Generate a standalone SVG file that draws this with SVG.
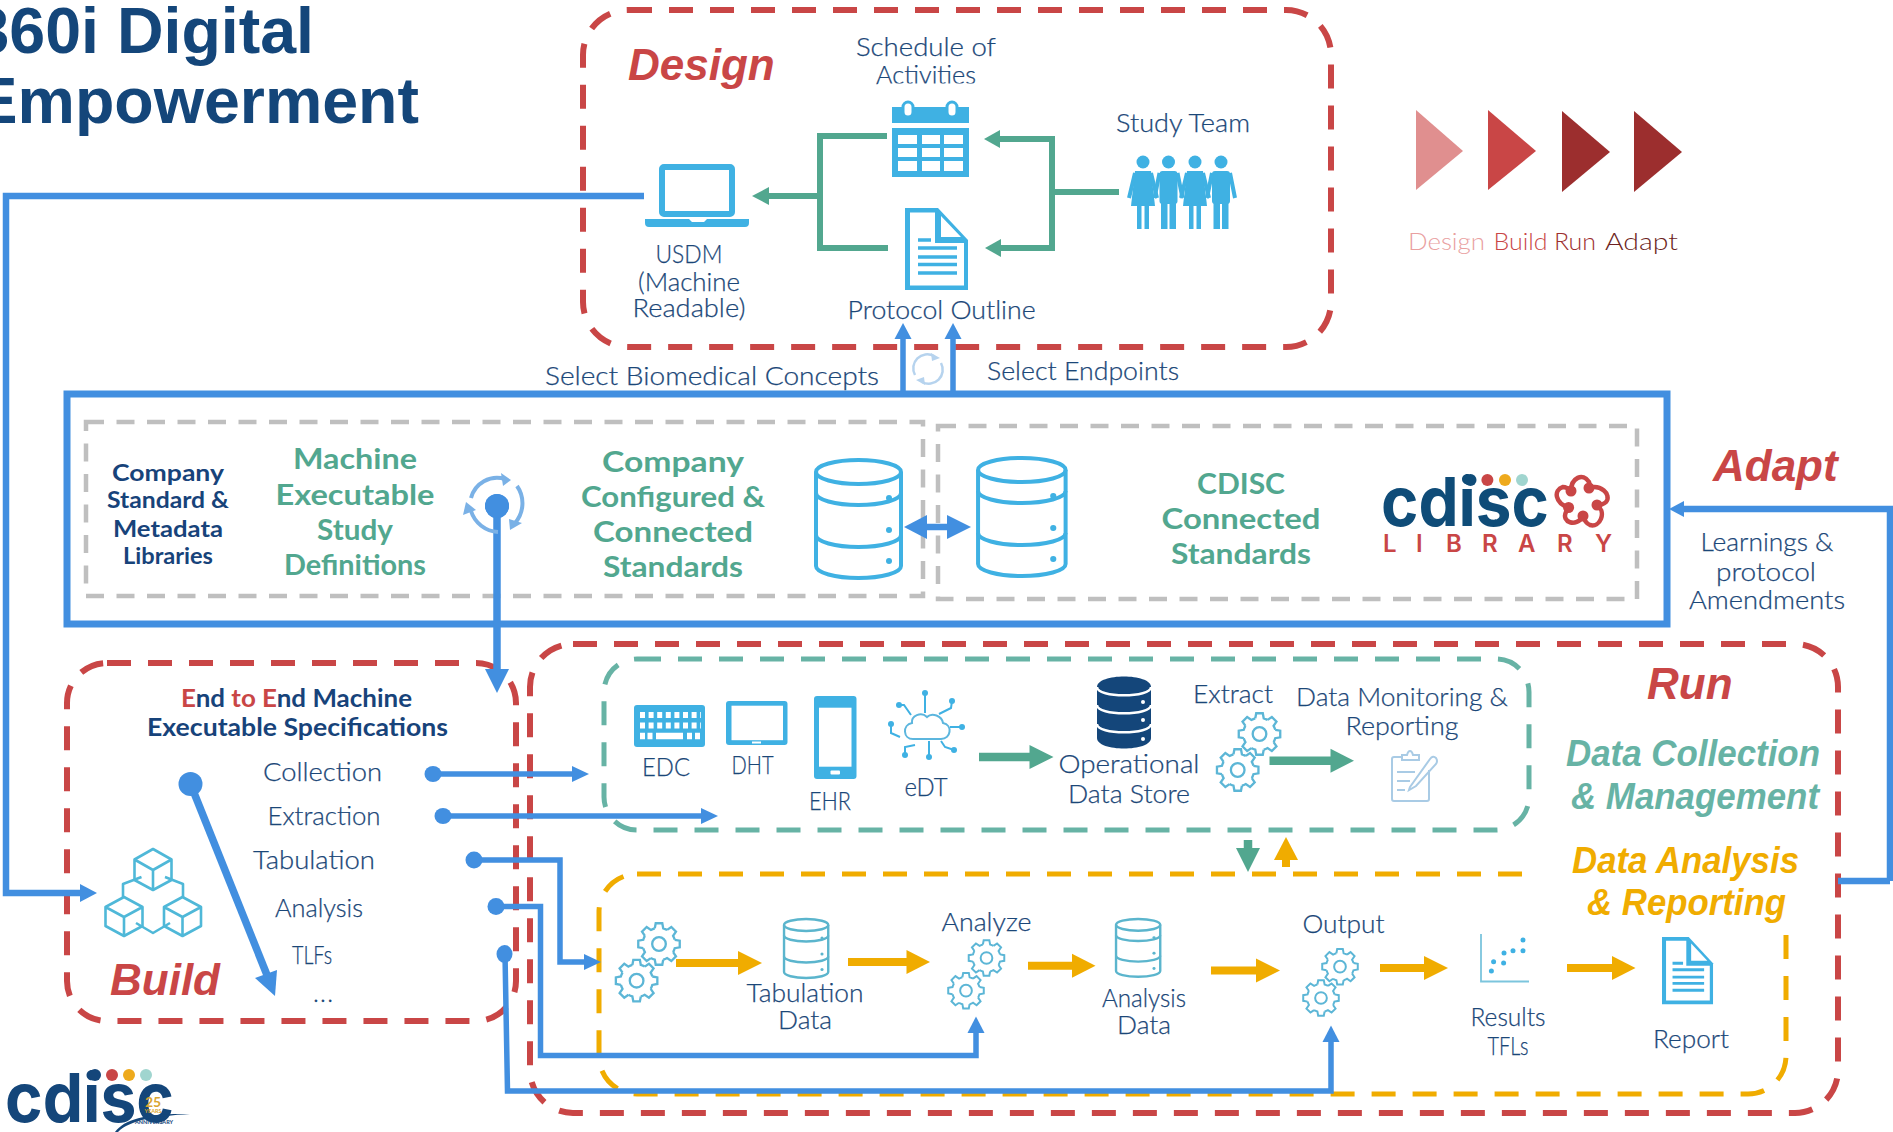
<svg xmlns="http://www.w3.org/2000/svg" xmlns:xlink="http://www.w3.org/1999/xlink" width="1893" height="1132" viewBox="0 0 1893 1132">
<style>
text{font-family:"Lato","Noto Sans",sans-serif}
.t{fill:#1b4778;font-size:25px;font-weight:300;text-anchor:middle;stroke:#1b4778;stroke-width:.25}
.gb{fill:#52a78f;font-size:29px;font-weight:700;text-anchor:middle}
.nb{fill:#17437a;font-size:23px;font-weight:700;text-anchor:middle}
.hb{fill:#17437a;font-size:24px;font-weight:700;text-anchor:middle}
.ph{font-family:"Liberation Sans",Arial,sans-serif;font-weight:700;font-style:italic;fill:#c94646;font-size:44px}
.ph2{font-family:"Liberation Sans",Arial,sans-serif;font-weight:700;font-style:italic;font-size:37px}
.title{font-family:"Liberation Sans",Arial,sans-serif;font-weight:700;font-size:64.5px;fill:#14467a;text-anchor:end}
.box{fill:none;stroke-dasharray:24 17}
.red{stroke:#c94646;stroke-width:6}
.grn{stroke:#67b3a5;stroke-width:5}
.org{stroke:#f0ac00;stroke-width:5}
.gray{fill:none;stroke:#bfbfbf;stroke-width:4.5;stroke-dasharray:18 12.5}
.bl{fill:none;stroke:#428fe0;stroke-width:5.5}
.blf{fill:#428fe0}
.tl{fill:none;stroke:#52a78f;stroke-width:6}
.tlf{fill:#52a78f}
.ol{fill:none;stroke:#f0ac00;stroke-width:8}
.olf{fill:#f0ac00}
.w6{stroke-width:6.5}
.w7{stroke-width:7.5}
.w8{stroke-width:8.5}
.ic{fill:#3fb1e3}
.ns{vector-effect:non-scaling-stroke}
.dbu{fill:none;stroke:#3fb1e3;color:#3fb1e3;stroke-width:4}
.dbt{fill:none;stroke:#5bb5cd;color:#5bb5cd;stroke-width:2.4}
.gear{fill:none;stroke:#5cb6d6;stroke-width:2.2}
.cube{fill:none;stroke:#4fb8d8;stroke-width:2.6;stroke-linejoin:round}
.logo{font-family:"Inter","Lato",sans-serif;font-weight:700;fill:#0f4c78}
</style>
<defs>
<path id="gt" d="M14.97,-4.01 L19.75,-3.13 L19.75,3.13 L14.97,4.01 A15.5,15.5 0 0 1 13.42,7.75"/>
<g id="gear">
<use xlink:href="#gt"/><use xlink:href="#gt" transform="rotate(45)"/><use xlink:href="#gt" transform="rotate(90)"/><use xlink:href="#gt" transform="rotate(135)"/><use xlink:href="#gt" transform="rotate(180)"/><use xlink:href="#gt" transform="rotate(225)"/><use xlink:href="#gt" transform="rotate(270)"/><use xlink:href="#gt" transform="rotate(315)"/>
<circle r="6.5"/>
</g>
<g id="db">
<ellipse class="ns" cx="44.5" cy="14" rx="42.5" ry="12"/>
<path class="ns" d="M2,14 V108 A42.5,12 0 0 0 87,108 V14"/>
<path class="ns" d="M2,35 A42.5,12 0 0 0 87,35 M2,77 A42.5,12 0 0 0 87,77"/>
<g fill="currentColor" stroke="none"><circle cx="75" cy="40" r="3"/><circle cx="75" cy="72" r="3"/><circle cx="75" cy="103" r="3"/></g>
</g>
<g id="doc">
<path class="ic" d="M0,0 H33 L63,32 V82 H0 Z"/>
<path fill="#fff" d="M5,4.5 H30 V35 H59 V77.5 H5 Z M36,8 L56,29 H36 Z"/>
<path fill="none" stroke="#3fb1e3" stroke-width="3.5" d="M13,32 H26 M13,40 H52 M13,49 H52 M13,56.500 H52 M13,65 H52"/>
</g>
<g id="wo" class="ic">
<circle cy="0" r="6.500"/>
<path d="M-8,9 H8 L12,44 H-12 Z"/><rect x="-6" y="44" width="4.500" height="23"/><rect x="1.500" y="44" width="4.500" height="23"/>
<path d="M-8,11 L-14,36 M8,11 L14,36" fill="none" stroke="#3fb1e3" stroke-width="4"/>
</g>
<g id="ma" class="ic">
<circle cy="0" r="6.500"/>
<rect x="-9" y="9" width="18" height="33" rx="3"/><rect x="-7.500" y="40" width="6.500" height="27"/><rect x="1" y="40" width="6.500" height="27"/>
<path d="M-9,11 L-14,36 M9,11 L14,36" fill="none" stroke="#3fb1e3" stroke-width="4"/>
</g>
</defs>
<rect width="1893" height="1132" fill="#fff"/>

<g id="title">
<text class="title" x="314" y="53">360i Digital</text>
<text class="title" x="419" y="123">Empowerment</text>
</g>

<g id="legend">
<polygon points="1416,110 1463,151 1416,190" fill="#e08f8f"/>
<polygon points="1488,110 1536,151 1488,190" fill="#c94646"/>
<polygon points="1562,111 1610,152 1562,192" fill="#9c2e2e"/>
<polygon points="1634,111 1682,152 1634,192" fill="#9c2e2e"/>
<text x="1408" y="250" font-size="24" font-weight="300" fill="#e9a0a0" textLength="77" lengthAdjust="spacingAndGlyphs">Design</text>
<text x="1493.500" y="250" font-size="24" font-weight="300" fill="#c94646" textLength="54" lengthAdjust="spacingAndGlyphs">Build</text>
<text x="1554" y="250" font-size="24" font-weight="300" fill="#9c2e2e" textLength="42" lengthAdjust="spacingAndGlyphs">Run</text>
<text x="1605" y="250" font-size="24" font-weight="300" fill="#6d1f22" textLength="73" lengthAdjust="spacingAndGlyphs">Adapt</text>
</g>

<g id="frames">
<rect id="design-box" class="box red" x="583" y="10" width="748" height="337" rx="45"/>
<rect id="build-box" class="box red" x="67" y="663" width="449" height="358" rx="40"/>
<rect id="run-box" class="box red" x="530" y="644" width="1308" height="469" rx="43"/>
<rect id="collect-box" class="box grn" x="604" y="659" width="925" height="171" rx="33"/>
<path id="analysis-box" class="box org" d="M637,874 H1522 M1786,935 V1056 A38,38 0 0 1 1748,1094 H637 A38,38 0 0 1 599,1056 V912 A38,38 0 0 1 637,874"/>
<rect id="library-box" x="67" y="394" width="1600" height="230" fill="none" stroke="#428fe0" stroke-width="7"/>
<rect class="gray" x="86" y="422" width="837" height="174"/>
<rect class="gray" x="938" y="426" width="699" height="173"/>
</g>

<g id="connectors">
<path class="bl w6" d="M644,196 H6 V893 H82"/>
<polygon class="blf" points="80,884 97,893 80,902"/>
<path class="tl" d="M887,136 H820 V248 H888 M820,196 H767"/>
<polygon class="tlf" points="752,196 769,187 769,205"/>
<path class="tl" d="M1119,192 H1052 M998,139 H1052 V248 H998"/>
<polygon class="tlf" points="984,139 1000,130 1000,148"/>
<polygon class="tlf" points="985,248 1001,239 1001,257"/>
<path class="bl" d="M903,392 V337 M953,392 V337"/>
<polygon class="blf" points="903,323 911.500,339 894.500,339"/>
<polygon class="blf" points="953,323 961.500,339 944.500,339"/>
<path class="bl w7" d="M497,506 V672"/>
<ellipse class="blf" cx="497" cy="506" rx="12" ry="12"/>
<polygon class="blf" points="485,669 509,669 497,693"/>
<path class="bl w6" d="M925,527 H950"/>
<polygon class="blf" points="904,527 927,515 927,539"/>
<polygon class="blf" points="971,527 947,515 947,539"/>
<path class="bl w6" d="M1890,881 V509 H1682 M1838,881 H1890"/>
<polygon class="blf" points="1669,509 1684,501 1684,517"/>
<path class="bl w7" d="M190.500,784 L267,975"/>
<ellipse class="blf" cx="190.500" cy="784" rx="12" ry="12"/>
<polygon class="blf" points="275,996 255,978 277,970"/>
<path class="bl" d="M433,774 H574"/><ellipse class="blf" cx="433" cy="774" rx="8.500" ry="8"/><polygon class="blf" points="572,766 589,774 572,782"/>
<path class="bl" d="M443,816 H703"/><ellipse class="blf" cx="443" cy="816" rx="8.500" ry="8"/><polygon class="blf" points="701,808 718,816 701,824"/>
<path class="bl" d="M474,860 H560 V962 H586"/><ellipse class="blf" cx="474" cy="860" rx="8.500" ry="8.500"/><polygon class="blf" points="584,954 601,962 584,970"/>
<path class="bl" d="M496,906.500 H540.500 V1055.500 H976 V1031"/><ellipse class="blf" cx="496" cy="906.500" rx="8.500" ry="8.500"/><polygon class="blf" points="976,1016.500 984.500,1033 967.500,1033"/>
<path class="bl" d="M505,954 L507.500,1091 H1331 V1040"/><ellipse class="blf" cx="504.500" cy="954" rx="8" ry="9"/><polygon class="blf" points="1331,1025.500 1339.500,1042 1322.500,1042"/>
<path class="tl w8" d="M979,757 H1031"/><polygon class="tlf" points="1053.500,757 1029.500,745 1029.500,769"/>
<path class="tl w8" d="M1269.500,760.700 H1332"/><polygon class="tlf" points="1354,760.700 1330.500,748.700 1330.500,772.700"/>
<path class="tl w8" d="M1248,840 V850"/><polygon class="tlf" points="1248,872 1236,848 1260,848"/>
<path class="ol" d="M1286,867 V858"/><polygon class="olf" points="1286,837 1274,860 1298,860"/>
<path class="ol" d="M676,963 H740"/><polygon class="olf" points="762,963 738,951 738,975"/>
<path class="ol" d="M848,962 H908"/><polygon class="olf" points="930,962 906.500,950 906.500,974"/>
<path class="ol" d="M1028,965.700 H1074"/><polygon class="olf" points="1095.500,965.700 1072,953.700 1072,977.700"/>
<path class="ol" d="M1211,970.600 H1258"/><polygon class="olf" points="1280,970.600 1256,958.600 1256,982.600"/>
<path class="ol" d="M1380,968 H1426"/><polygon class="olf" points="1448,968 1424,956 1424,980"/>
<path class="ol" d="M1567,968 H1614"/><polygon class="olf" points="1635.500,968 1612,956 1612,980"/>
</g>

<g id="design-label"><text class="ph" x="628" y="80">Design</text></g>

<g id="soa">
<text class="t" x="926" y="56" textLength="140" lengthAdjust="spacingAndGlyphs">Schedule of</text>
<text class="t" x="926" y="84" textLength="100" lengthAdjust="spacingAndGlyphs">Activities</text>
<rect x="880" y="83.500" width="100" height="18" fill="#fff"/>
<rect class="ic" x="892" y="107" width="77" height="16"/>
<g fill="#fff" stroke="#3fb1e3" stroke-width="3"><rect x="903" y="102" width="10" height="15" rx="5"/><rect x="947" y="102" width="10" height="15" rx="5"/></g>
<rect class="ic" x="892" y="128" width="77" height="49"/>
<path fill="#fff" d="M898,135 h19 v9 h-19 z M922,135 h18 v9 h-18 z M944,135 h19 v9 h-19 z M898,148 h19 v9 h-19 z M922,148 h18 v9 h-18 z M944,148 h19 v9 h-19 z M898,161 h19 v10 h-19 z M922,161 h18 v10 h-18 z M944,161 h19 v10 h-19 z"/>
</g>

<g id="protocol">
<use xlink:href="#doc" transform="translate(905,208)"/>
<text class="t" x="941.600" y="319" textLength="188" lengthAdjust="spacingAndGlyphs">Protocol Outline</text>
</g>

<g id="usdm">
<rect x="662" y="167" width="70" height="47" fill="none" stroke="#3fb1e3" stroke-width="6" rx="2"/>
<path class="ic" d="M645,219 H689 l3,3 h12 l3,-3 H749 V223 q0,4 -4,4 H649 q-4,0 -4,-4 Z"/>
<text class="t" x="689" y="263" textLength="67" lengthAdjust="spacingAndGlyphs">USDM</text>
<text class="t" x="689" y="291" textLength="102" lengthAdjust="spacingAndGlyphs">(Machine</text>
<text class="t" x="689" y="317" textLength="113" lengthAdjust="spacingAndGlyphs">Readable)</text>
</g>

<g id="study-team">
<text class="t" x="1183" y="132" textLength="134" lengthAdjust="spacingAndGlyphs">Study Team</text>
<use xlink:href="#wo" transform="translate(1143,162)"/>
<use xlink:href="#ma" transform="translate(1168.500,162)"/>
<use xlink:href="#wo" transform="translate(1195,162)"/>
<use xlink:href="#ma" transform="translate(1221,162)"/>
</g>

<g id="select-labels">
<text class="t" x="712" y="385" textLength="334" lengthAdjust="spacingAndGlyphs">Select Biomedical Concepts</text>
<text class="t" x="1083" y="380" textLength="192" lengthAdjust="spacingAndGlyphs">Select Endpoints</text>
<g fill="none" stroke="#b6d3ee" stroke-width="2.500"><path d="M915,375 A14,14 0 0 1 934,356"/><path d="M941,363 A14,14 0 0 1 922,382"/></g>
<polygon fill="#b6d3ee" points="940,358 932,361 931,353"/><polygon fill="#b6d3ee" points="916,380 924,377 925,385"/>
</g>

<g id="company-libs">
<text class="nb" x="168" y="481" textLength="112" lengthAdjust="spacingAndGlyphs">Company</text>
<text class="nb" x="168" y="508" textLength="122" lengthAdjust="spacingAndGlyphs">Standard &amp;</text>
<text class="nb" x="168" y="537" textLength="110" lengthAdjust="spacingAndGlyphs">Metadata</text>
<text class="nb" x="168" y="564" textLength="90" lengthAdjust="spacingAndGlyphs">Libraries</text>
</g>
<g id="mesd">
<text class="gb" x="355" y="469" textLength="124" lengthAdjust="spacingAndGlyphs">Machine</text>
<text class="gb" x="355" y="505" textLength="159" lengthAdjust="spacingAndGlyphs">Executable</text>
<text class="gb" x="355" y="540" textLength="76" lengthAdjust="spacingAndGlyphs">Study</text>
<text class="gb" x="355" y="575" textLength="142" lengthAdjust="spacingAndGlyphs">Definitions</text>
</g>
<g id="cycle">
<g fill="none" stroke="#7ab1e6" stroke-width="4"><path d="M471,498 A27,27 0 0 1 505,479"/><path d="M517,486 A30,30 0 0 1 515,523"/><path d="M498,532 A30,30 0 0 1 471,511"/></g>
<g fill="#7ab1e6"><polygon points="511,480 503,486 501,473"/><polygon points="510,530 509,519 522,523"/><polygon points="466,502 476,510 463,515"/></g>
<ellipse class="blf" cx="497" cy="506" rx="12" ry="12"/>
</g>
<g id="company-std">
<text class="gb" x="673" y="472" textLength="142" lengthAdjust="spacingAndGlyphs">Company</text>
<text class="gb" x="673" y="507" textLength="184" lengthAdjust="spacingAndGlyphs">Configured &amp;</text>
<text class="gb" x="673" y="542" textLength="160" lengthAdjust="spacingAndGlyphs">Connected</text>
<text class="gb" x="673" y="577" textLength="140" lengthAdjust="spacingAndGlyphs">Standards</text>
</g>
<g id="db-company"><use xlink:href="#db" class="dbu" transform="translate(814,458)"/></g>
<g id="db-cdisc"><use xlink:href="#db" class="dbu" transform="translate(976,456) scale(1.03,1)"/></g>
<g id="cdisc-std">
<text class="gb" x="1241" y="494" textLength="88" lengthAdjust="spacingAndGlyphs">CDISC</text>
<text class="gb" x="1241" y="529" textLength="159" lengthAdjust="spacingAndGlyphs">Connected</text>
<text class="gb" x="1241" y="564" textLength="140" lengthAdjust="spacingAndGlyphs">Standards</text>
</g>
<g id="cdisc-library-logo">
<text class="logo" x="1381" y="526" font-size="68" textLength="168" lengthAdjust="spacingAndGlyphs">cdisc</text>
<circle cx="1470.500" cy="480" r="6" fill="#0f4c78"/><circle cx="1487.400" cy="480" r="6" fill="#c94646"/><circle cx="1505" cy="480" r="6" fill="#eeaa1d"/><circle cx="1522" cy="480" r="6" fill="#a0d5cf"/>
<text x="1383 1416 1446 1482 1518 1557 1595" y="552" font-size="24" font-weight="600" fill="#c94646" style="font-family:Inter,Lato,sans-serif">LIBRARY</text>
<g fill="none" stroke="#c94646" stroke-width="4.500" stroke-linecap="round"><path d="M1571,491 C1571,478 1583,472 1589,482 C1591,487 1589,488 1589,488 C1600,484 1612,494 1606,502 C1603,505 1597,505 1597,505"/><path d="M1597,505 C1607,512 1600,528 1590,525 C1585,523 1583,516 1583,516"/><path d="M1583,516 C1576,528 1561,522 1566,512 C1568,509 1568.600,507.500 1568.600,507.500"/><path d="M1568.600,507.500 C1555,503 1553,490 1563,487 C1567,487 1571,491 1571,491"/></g>
<g fill="#c94646"><circle cx="1571" cy="491" r="5.500"/><circle cx="1589" cy="488" r="5.500"/><circle cx="1597" cy="505" r="5.500"/><circle cx="1583" cy="516" r="5.500"/><circle cx="1568.600" cy="507.500" r="5.500"/></g>
</g>

<g id="adapt">
<text class="ph" x="1713" y="481">Adapt</text>
<text class="t" x="1767" y="551" textLength="133" lengthAdjust="spacingAndGlyphs">Learnings &amp;</text>
<text class="t" x="1766" y="581" textLength="100" lengthAdjust="spacingAndGlyphs">protocol</text>
<text class="t" x="1767" y="609" textLength="156" lengthAdjust="spacingAndGlyphs">Amendments</text>
</g>

<g id="build">
<text class="hb" x="296.500" y="707" textLength="231" lengthAdjust="spacingAndGlyphs"><tspan fill="#c94646">E</tspan>nd <tspan fill="#c94646">to E</tspan>nd Machine</text>
<text class="hb" x="297.500" y="736" textLength="301" lengthAdjust="spacingAndGlyphs">Executable Specifications</text>
<text class="t" x="322.500" y="781" textLength="119" lengthAdjust="spacingAndGlyphs">Collection</text>
<text class="t" x="324" y="825" textLength="113" lengthAdjust="spacingAndGlyphs">Extraction</text>
<text class="t" x="314" y="869" textLength="122" lengthAdjust="spacingAndGlyphs">Tabulation</text>
<text class="t" x="319" y="917" textLength="88" lengthAdjust="spacingAndGlyphs">Analysis</text>
<text class="t" x="312" y="964" textLength="40" lengthAdjust="spacingAndGlyphs">TLFs</text>
<text class="t" x="323" y="1002" textLength="20" lengthAdjust="spacing">...</text>
<text class="ph" x="110" y="995">Build</text>
<g class="cube">
<path d="M153,849 L171.500,859.500 V880 L153,890 L134.500,880 V859.500 Z M134.500,859.500 L153,870 L171.500,859.500 M153,870 V890"/>
<path d="M124,897 L142.500,907 V926 L124,936 L105.500,926 V907 Z M105.500,907 L124,917 L142.500,907 M124,917 V936"/>
<path d="M182.500,897 L201,907 V926 L182.500,936 L164,926 V907 Z M164,907 L182.500,917 L201,907 M182.500,917 V936"/>
<path d="M141.500,877 L123,884 V897 M165,877 L183,884 V897 M136,923 L153,933 L170,923"/>
</g>
</g>

<g id="sources">
<rect class="ic" x="634" y="705" width="71" height="42" rx="3"/>
<path fill="none" stroke="#fff" stroke-width="6" stroke-dasharray="5 3.600" d="M640,715 H701 M640,725.500 H701"/>
<path fill="none" stroke="#fff" stroke-width="6.500" d="M640,736 h5 M647.500,736 h5 M656,736 h27 M687,736 h5 M695,736 h5"/>
<text class="t" x="666" y="775.500" textLength="48" lengthAdjust="spacingAndGlyphs">EDC</text>
<rect class="ic" x="726" y="701" width="61.500" height="44" rx="3"/><rect x="731.500" y="705.700" width="51.500" height="34.500" fill="#fff"/><rect x="752" y="741.500" width="9" height="2" fill="#fff"/>
<text class="t" x="752.500" y="774" textLength="42" lengthAdjust="spacingAndGlyphs">DHT</text>
<rect class="ic" x="814" y="696" width="42.500" height="83" rx="3"/><rect x="819" y="707.700" width="32.500" height="59" fill="#fff"/><rect x="830.500" y="770.500" width="9.500" height="4" rx="1" fill="#fff"/>
<text class="t" x="830" y="810" textLength="42" lengthAdjust="spacingAndGlyphs">EHR</text>
<path fill="none" stroke="#5cb6de" stroke-width="2" d="M913,739 H941 C951,739 953,725 943,723 C942,716 932,712 927,717 C921,711 911,716 912,723 C902,725 903,739 913,739 Z"/>
<path fill="none" stroke="#3fb1e3" stroke-width="2" d="M925,693 V713 M899,705 H904 L911,715 M952,701 L951,708 L939,714 M891,724 V733 L900,737 M962,727 H950 M905,755 V747 L915,745 M929,757 V741 M954,750 L945,747 L941,741"/>
<g class="ic"><circle cx="925" cy="693" r="3"/><circle cx="899" cy="705" r="3"/><circle cx="952" cy="701" r="3"/><circle cx="891" cy="724" r="3"/><circle cx="962" cy="727" r="3"/><circle cx="905" cy="755" r="3"/><circle cx="929" cy="757" r="3"/><circle cx="954" cy="750" r="3"/></g>
<text class="t" x="926" y="795.500" textLength="43" lengthAdjust="spacingAndGlyphs">eDT</text>
</g>

<g id="ods">
<path fill="#14467a" d="M1097,687 C1097,673 1151,673 1151,687 V738 C1151,752 1097,752 1097,738 Z"/>
<path fill="none" stroke="#fff" stroke-width="2.500" d="M1097,687 C1097,698 1151,698 1151,687 M1097,705 C1097,716 1151,716 1151,705 M1097,724 C1097,735 1151,735 1151,724"/>
<g fill="#fff"><circle cx="1143" cy="702" r="2"/><circle cx="1143" cy="720" r="2"/><circle cx="1143" cy="739" r="2"/></g>
<text class="t" x="1129" y="773" textLength="141" lengthAdjust="spacingAndGlyphs">Operational</text>
<text class="t" x="1129" y="802.500" textLength="122" lengthAdjust="spacingAndGlyphs">Data Store</text>
</g>

<g id="extract">
<text class="t" x="1233" y="702.500" textLength="80" lengthAdjust="spacingAndGlyphs">Extract</text>
<use xlink:href="#gear" class="gear" transform="translate(1259.500,734) scale(1.05)"/>
<use xlink:href="#gear" class="gear" transform="translate(1237.700,770) scale(1.05)"/>
</g>
<g id="monitoring">
<text class="t" x="1402" y="706" textLength="212" lengthAdjust="spacingAndGlyphs">Data Monitoring &amp;</text>
<text class="t" x="1402" y="735" textLength="113" lengthAdjust="spacingAndGlyphs">Reporting</text>
<g fill="none" stroke="#a9cbe5" stroke-width="2">
<path d="M1402,757 H1394 Q1392,757 1392,759 V799 Q1392,801 1394,801 H1427 Q1429,801 1429,799 V770"/>
<path d="M1402,760 H1419 V755 H1413 Q1412,751 1410,751 Q1408,751 1407,755 H1402 Z"/>
<path d="M1397,772 H1415 M1397,781 H1410 M1397,790 H1405"/>
<path d="M1410,787 L1430,759 Q1433,755 1436,758 Q1438,761 1436,764 L1416,786 L1409,790 Z"/>
</g>
</g>

<g id="run-labels">
<text class="ph" x="1647" y="699">Run</text>
<text class="ph2" x="1566" y="766" fill="#67b3a5" textLength="254" lengthAdjust="spacingAndGlyphs">Data Collection</text>
<text class="ph2" x="1571" y="809" fill="#67b3a5" textLength="248" lengthAdjust="spacingAndGlyphs">&amp; Management</text>
<text class="ph2" x="1572" y="873" fill="#f0ac00" textLength="227" lengthAdjust="spacingAndGlyphs">Data Analysis</text>
<text class="ph2" x="1587" y="915" fill="#f0ac00" textLength="199" lengthAdjust="spacingAndGlyphs">&amp; Reporting</text>
</g>

<g id="tabulate">
<use xlink:href="#gear" class="gear" transform="translate(659,944) scale(1.05)"/>
<use xlink:href="#gear" class="gear" transform="translate(636.600,980.700) scale(1.05)"/>
</g>
<g id="tabulation-data">
<use xlink:href="#db" class="dbt" transform="translate(783,918) scale(.52,.5)"/>
<text class="t" x="805" y="1001.500" textLength="117" lengthAdjust="spacingAndGlyphs">Tabulation</text>
<text class="t" x="805" y="1029" textLength="54" lengthAdjust="spacingAndGlyphs">Data</text>
</g>
<g id="analyze">
<text class="t" x="986.500" y="930.500" textLength="90" lengthAdjust="spacingAndGlyphs">Analyze</text>
<use xlink:href="#gear" class="gear" transform="translate(986.500,958) scale(.9)"/>
<use xlink:href="#gear" class="gear" transform="translate(966,990.700) scale(.9)"/>
</g>
<g id="analysis-data">
<use xlink:href="#db" class="dbt" transform="translate(1115,918) scale(.52,.49)"/>
<text class="t" x="1144" y="1006.500" textLength="84" lengthAdjust="spacingAndGlyphs">Analysis</text>
<text class="t" x="1144" y="1034" textLength="54" lengthAdjust="spacingAndGlyphs">Data</text>
</g>
<g id="output">
<text class="t" x="1343.500" y="933" textLength="82" lengthAdjust="spacingAndGlyphs">Output</text>
<use xlink:href="#gear" class="gear" transform="translate(1340,966.700) scale(.9)"/>
<use xlink:href="#gear" class="gear" transform="translate(1321,998) scale(.9)"/>
</g>
<g id="results">
<path fill="none" stroke="#7cc5dd" stroke-width="1.800" d="M1481,934 V981.500 H1529"/>
<g class="ic"><circle cx="1491.400" cy="971" r="2.500"/><circle cx="1493.600" cy="961.700" r="2.500"/><circle cx="1503.600" cy="963" r="2.500"/><circle cx="1504" cy="953" r="2.500"/><circle cx="1513" cy="950.700" r="2.500"/><circle cx="1523" cy="940" r="2.500"/><circle cx="1523" cy="950.700" r="2.500"/></g>
<text class="t" x="1508" y="1026" textLength="75" lengthAdjust="spacingAndGlyphs">Results</text>
<text class="t" x="1508" y="1055" textLength="41" lengthAdjust="spacingAndGlyphs">TFLs</text>
</g>
<g id="report">
<use xlink:href="#doc" transform="translate(1662,937) scale(.81,.82)"/>
<text class="t" x="1691" y="1048" textLength="76" lengthAdjust="spacingAndGlyphs">Report</text>
</g>

<g id="cdisc-25-logo">
<text class="logo" x="5" y="1122" font-size="68" textLength="169" lengthAdjust="spacingAndGlyphs" style="fill:#14467a">cdisc</text>
<circle cx="95" cy="1075" r="6" fill="#14467a"/><circle cx="112" cy="1075" r="6" fill="#c94646"/><circle cx="129" cy="1075" r="6" fill="#eeaa1d"/><circle cx="146" cy="1075" r="6" fill="#a0d5cf"/>
<text x="153" y="1107" font-size="14" font-weight="700" fill="#d9a531" text-anchor="middle">25</text>
<text x="153" y="1113" font-size="5.500" font-weight="700" fill="#d9a531" text-anchor="middle">YEARS</text>
<path fill="#14467a" d="M115,1132 C125,1118 150,1113 190,1114 C155,1116 130,1120 118,1132 Z"/>
<text x="154" y="1124" font-size="5.500" font-weight="700" fill="#14467a" text-anchor="middle">ANNIVERSARY</text>
</g>
</svg>
